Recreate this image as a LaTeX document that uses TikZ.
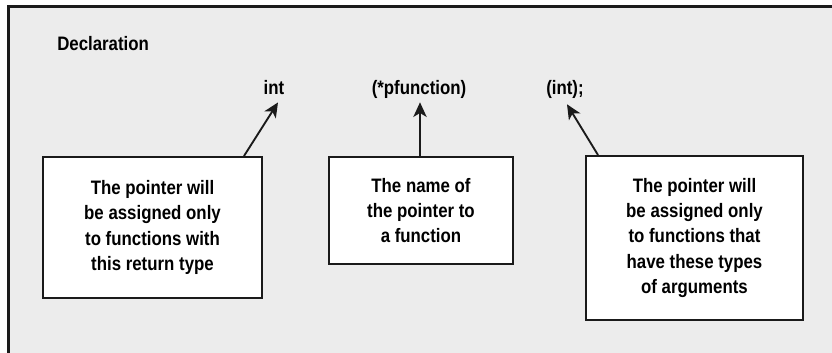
\documentclass[tikz,border=0pt]{standalone}
\usepackage{fontspec}
\setmainfont{Liberation Sans Bold}[FakeStretch=0.865]
\usepackage{tikz}
\usetikzlibrary{arrows.meta, positioning, calc}
\usepackage{xcolor}
\definecolor{panel}{HTML}{ECECEC}
\definecolor{inkline}{HTML}{1A1A1A}
\tikzset{
  notebox/.style={rectangle, draw=inkline, fill=white, line width=1.5pt,
                  minimum width=#1, align=center, inner sep=0pt,
                  font=\fontsize{14.6}{18.9}\selectfont},
  notebox/.default=160,
  codelbl/.style={anchor=base, inner sep=0pt, font=\fontsize{14.6}{18.9}\selectfont},
  arr/.style={-{Stealth[length=11pt, width=10pt, inset=3pt]}, line width=1.4pt, inkline},
}
\begin{document}
\begin{tikzpicture}[x=0.75pt, y=-0.75pt]
  \useasboundingbox (0,0) rectangle (832,353);
  \fill[panel] (8,6) rectangle (832,353);
  \draw[inkline, line width=1.6pt] (8.5,353) -- (8.5,6.5) -- (832,6.5);

  \node[codelbl, anchor=base west] (decl) at (57,51) {Declaration};
  \node[codelbl] (rtype) at (274,94) {int};
  \node[codelbl] (pname) at (419,94) {(*pfunction)};
  \node[codelbl] (args) at (565,94) {(int);};

  \node[notebox=219pt*0.75, minimum height=141pt*0.75] (retbox) at (152.5,227.5)
    {The pointer will\\be assigned only\\to functions with\\this return type};
  \node[notebox=184pt*0.75, minimum height=107pt*0.75] (namebox) at (421,210.5)
    {The name of\\the pointer to\\a function};
  \node[notebox=217pt*0.75, minimum height=164pt*0.75] (argbox) at (694.5,238)
    {The pointer will\\be assigned only\\to functions that\\have these types\\of arguments};

  \draw[arr] ([xshift=-19*0.75pt]retbox.north east) -- ([shift={(4,8)}]rtype.south);
  \draw[arr] ([xshift=-1*0.75pt]namebox.north) -- ([shift={(1,4)}]pname.south);
  \draw[arr] ([xshift=13*0.75pt]argbox.north west) -- ([shift={(2,6)}]args.south);
\end{tikzpicture}
\end{document}
